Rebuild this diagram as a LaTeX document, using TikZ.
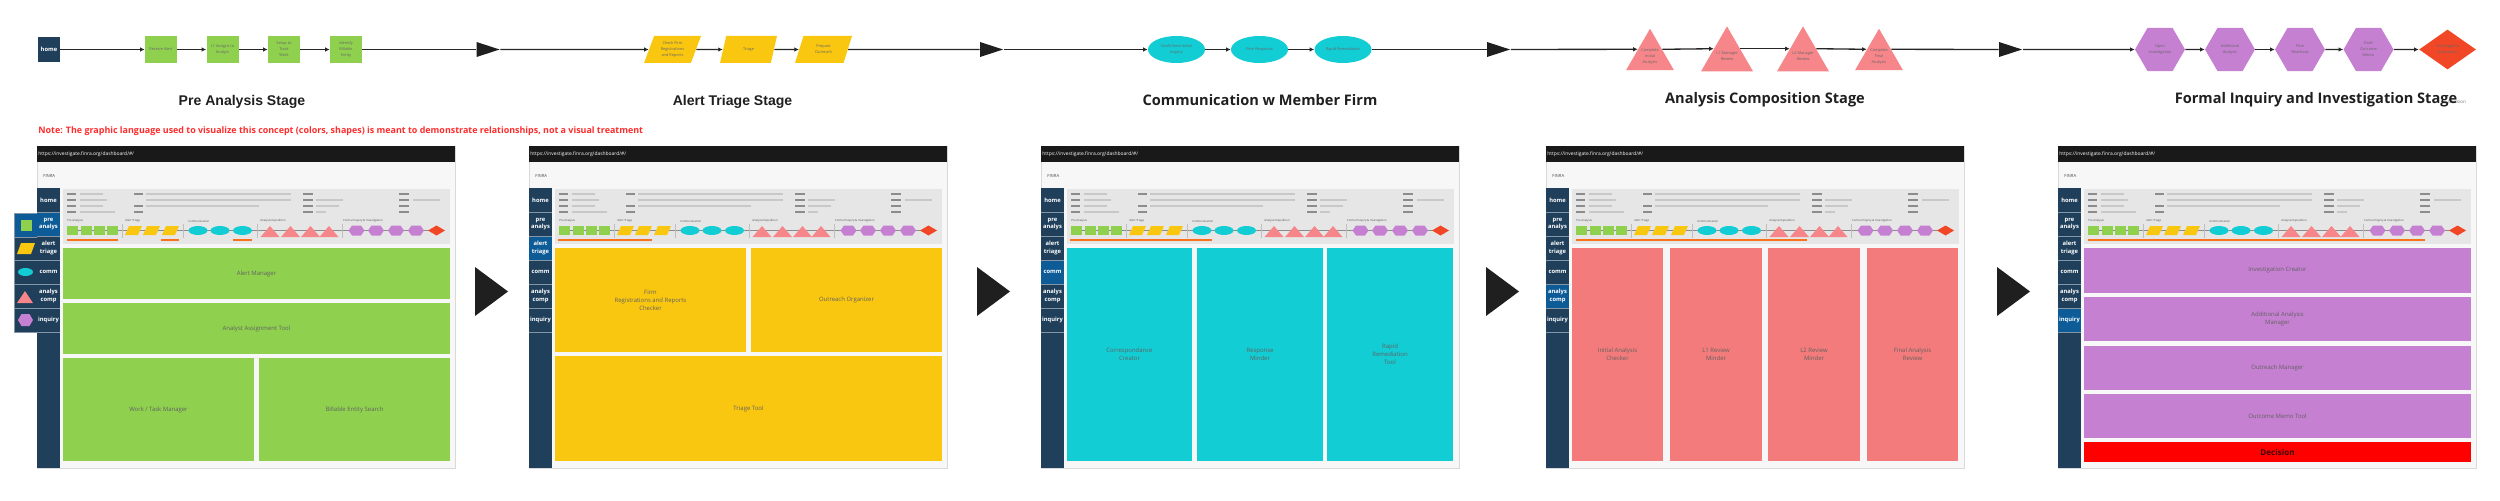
\documentclass[tikz,border=0pt]{standalone}
\usepackage{fontspec}
\setmainfont{Open Sans}
\newfontfamily\helvfont{Liberation Sans}
\usetikzlibrary{shapes.geometric,arrows.meta}

\definecolor{prgreen}{HTML}{8FD14F}
\definecolor{tryellow}{HTML}{FAC710}
\definecolor{cmcyan}{HTML}{12CDD4}
\definecolor{acred}{HTML}{F7868A}
\definecolor{acpanel}{HTML}{F47B7B}
\definecolor{inpurple}{HTML}{C680D2}
\definecolor{dispred}{HTML}{F24726}
\definecolor{decred}{HTML}{FF0000}
\definecolor{navdark}{HTML}{1F3F5B}
\definecolor{navhl}{HTML}{0D5B97}
\definecolor{ulorange}{HTML}{F7721B}
\definecolor{hdrgray}{HTML}{E6E6E6}
\definecolor{pagebg}{HTML}{F7F7F7}
\definecolor{notered}{HTML}{FF2A2A}
\definecolor{skdark}{HTML}{8C8C8C}
\definecolor{sklight}{HTML}{C8C8C8}

\newcommand{\pix}{0.02cm}
\newcommand{\fsz}[2]{\fontsize{#1}{#2}\selectfont}

\tikzset{
  flow/.style={line width=0.75pt, draw=black!85, -{Latex[length=0.9mm,width=0.9mm]}},
  flowplain/.style={line width=0.75pt, draw=black!85},
  stepnode/.style={inner sep=0pt, align=center, text=black!60, font=\fsz{2.2}{3.4}},
  homebox/.style={rectangle, fill=navdark, minimum width=22*\pix, minimum height=25*\pix, inner sep=0pt, text=white, font=\bfseries\fsz{3.3}{4}},
  prbox/.style={stepnode, rectangle, fill=prgreen, minimum width=32*\pix, minimum height=27*\pix},
  trbox/.style={stepnode, trapezium, trapezium left angle=68, trapezium right angle=112, trapezium stretches=true, fill=tryellow, minimum width=57*\pix, minimum height=27*\pix},
  cmbox/.style={stepnode, ellipse, fill=cmcyan, minimum width=57*\pix, minimum height=27*\pix},
  acbox/.style={stepnode, regular polygon, regular polygon sides=3, fill=acred, minimum size=55.4*\pix},
  inbox/.style={stepnode, regular polygon, regular polygon sides=6, fill=inpurple, minimum size=50*\pix},
  dispbox/.style={stepnode, diamond, fill=dispred, minimum width=57*\pix, minimum height=40*\pix},
  bigtip/.style={isosceles triangle, isosceles triangle stretches=true, fill=black!88, minimum width=15*\pix, minimum height=23*\pix, inner sep=0pt},
  stagetitle/.style={text=black!88, font=\bfseries\fsz{8.3}{10}},
  navtext/.style={text=white, align=center, font=\bfseries\fsz{3.3}{4.2}},
  navsep/.style={draw=white!45!navdark, line width=0.3pt},
  tool/.style={inner sep=0pt, align=center, text=black!62, font=\fsz{3.4}{4.6}},
  minilabel/.style={inner sep=0pt, anchor=west, text=black!70, font=\fsz{1.6}{2}},
}

% one box of the dashboard: name, x1, y1, x2, y2, colour, text
\newcommand{\toolbox}[7]{%
  \node[tool, fill=#6, minimum width={(#4-#2)*\pix}, minimum height={(#5-#3)*\pix}] (#1) at ({(#2+#4)/2},{(#3+#5)/2}) {#7};}

% dashboard mock-up: left x, highlighted nav row, orange spans, boxes
\newcommand{\mockpanel}[4]{%
  \begin{scope}[shift={(#1,0)}]
    % browser window
    \fill[pagebg] (0,162) rectangle (418,468);
    \draw[black!15, line width=0.4pt] (0,146) rectangle (418,468);
    \fill[black!90] (0,146) rectangle (418,162);
    \node[anchor=west, inner sep=0pt, text=white, font=\fsz{2.8}{3}] at (1,154) {https://investigate.finra.org/dashboard/\#/};
    \node[anchor=west, inner sep=0pt, text=black!70, font=\fsz{2.4}{3}] at (6,176) {FINRA};
    % side nav
    \fill[navdark] (0,188) rectangle (23,468);
    \fill[navhl] (0,{188+24*(#2-1)}) rectangle (23,{188+24*#2});
    \foreach \i/\t in {0/home,1/pre\\analys,2/alert\\triage,3/comm,4/analys\\comp,5/inquiry} {
      \node[navtext] at (11.5,{200+24*\i}) {\t};
      \draw[navsep] (0,{212+24*\i}) -- (23,{212+24*\i});
    }
    % header skeleton
    \fill[hdrgray] (26,189) rectangle (413,244);
    \foreach \y in {194,200,206,212} {
      \fill[skdark] (30,\y-1.2) rectangle (39,\y+1.2);
      \fill[skdark] (266,\y-1.2) rectangle (276,\y+1.2);
      \fill[skdark] (362,\y-1.2) rectangle (372,\y+1.2);
    }
    \foreach \y in {194,206,212} \fill[skdark] (97,\y-1.2) rectangle (106,\y+1.2);
    \foreach \a/\b/\y in {43/66/194,43/70/200,43/66/206,43/78/212,109/254/194,109/254/200,109/222/206,279/306/200,279/302/206,279/289/212,376/403/200}
      \fill[sklight] (\a,\y-1.2) rectangle (\b,\y+1.2);
    % mini stage flow
    \foreach \x/\t in {30/Pre Analysis,88/Alert Triage,151/Communication,223/Analysis Expedition,306/Formal Inquiry \& Investigation}
      \node[minilabel] at (\x,221) {\t};
    \draw[black!45, line width=0.3pt] (36,230.5) -- (400,230.5);
    \foreach \x in {85,146,220,305} \draw[black!25, line width=0.5pt] (\x,224) -- (\x,238);
    \foreach \x in {30,44,57,70} \fill[prgreen] (\x,226) rectangle (\x+11,235);
    \foreach \x in {88,106,125} \fill[tryellow] (\x,235) -- (\x+4,226) -- (\x+17,226) -- (\x+13,235) -- cycle;
    \foreach \x in {161,183,205.5} \fill[cmcyan] (\x,230.5) ellipse (9.5 and 4.5);
    \foreach \x in {233,253.5,273.5,292} \fill[acred] (\x-9.5,237) -- (\x,226) -- (\x+9.5,237) -- cycle;
    \foreach \x in {319.5,339,359,379} \fill[inpurple] (\x-8,230.5) -- (\x-4.5,225.5) -- (\x+4.5,225.5) -- (\x+8,230.5) -- (\x+4.5,235.5) -- (\x-4.5,235.5) -- cycle;
    \fill[dispred] (391,230.5) -- (399.5,225.5) -- (408,230.5) -- (399.5,235.5) -- cycle;
    \foreach \a/\b in {#3} \draw[ulorange, line width=1.4*\pix] (\a,240) -- (\b,240);
    % tools of this stage
    #4
  \end{scope}}

\begin{document}
\begin{tikzpicture}[x=0.02cm, y=-0.02cm]
  \useasboundingbox (0,0) rectangle (2500,500);

  % stage flow along the top
  \node[homebox] (home) at (49,49.5) {home};
  \node[prbox] (pa1) at (161,49.5) {Receive Alert};
  \node[prbox] (pa2) at (222.5,49.5) {L1 Assigns to\\Analyst};
  \node[prbox] (pa3) at (284,49.5) {Setup to\\Track\\Work};
  \node[prbox] (pa4) at (346,49.5) {Identify\\Billable\\Entity};
  \node[bigtip] (tip1) at (482,49.5) {};
  \node[trbox] (at1) at (672.5,49.5) {Check Firm\\Registrations\\and Reports};
  \node[trbox] (at2) at (748.5,49.5) {Triage};
  \node[trbox] (at3) at (823.5,49.5) {Prepare\\Outreach};
  \node[bigtip] (tip2) at (985.5,49.5) {};
  \node[cmbox] (cm1) at (1176.5,49.5) {Draft/Send Initial\\Inquiry};
  \node[cmbox] (cm2) at (1259.5,49.5) {Firm Response};
  \node[cmbox] (cm3) at (1343,49.5) {Rapid Remediation};
  \node[bigtip] (tip3) at (1492.5,49.5) {};
  \node[acbox] (ac1) at (1650,56.4) {Complete\\Initial\\Analysis};
  \node[acbox] (ac2) at (1727,56.4) {L1 Manager\\Review};
  \node[acbox] (ac3) at (1803,56.4) {L2 Manager\\Review};
  \node[acbox] (ac4) at (1879,56.4) {Complete\\Final\\Analysis};
  \node[bigtip] (tip4) at (2004.5,49.5) {};
  \node[inbox] (in1) at (2160,49.5) {Open\\Investigation};
  \node[inbox] (in2) at (2230,49.5) {Additional\\Analysis};
  \node[inbox] (in3) at (2300,49.5) {Firm\\Reachout};
  \node[inbox] (in4) at (2368.5,49.5) {Draft\\Outcome\\Memo};
  \node[dispbox] (disp) at (2447.5,49.5) {Investigation\\Disposition};

  \draw[flow] (home) -- (pa1);
  \foreach \a/\b in {pa1/pa2,pa2/pa3,pa3/pa4,at1/at2,at2/at3,cm1/cm2,cm2/cm3,in1/in2,in2/in3,in3/in4,in4/disp}
    \draw[flow] (\a) -- (\b);
  \foreach \a/\b in {pa4/tip1,at3/tip2,cm3/tip3} \draw[flowplain] (\a) -- (\b);
  \foreach \a/\b in {tip1/at1,tip2/cm1,tip4/in1} \draw[flow] (\a) -- (\b);
  \draw[flow] (tip3) -- (ac1.side 1);
  \draw[flow] (ac1.side 3) -- (ac2.side 1);
  \draw[flow] (ac2.side 3) -- (ac3.side 1);
  \draw[flow] (ac3.side 3) -- (ac4.side 1);
  \draw[flowplain] (ac4.side 3) -- (tip4);

  % stage titles
  \node[text=black!55, font=\fsz{2.5}{3}] (declabel) at (2457,102) {Decision};
  \node[stagetitle, font=\helvfont\bfseries\fsz{8}{10}] (tpre) at (242,101.5) {Pre Analysis Stage};
  \node[stagetitle, font=\helvfont\bfseries\fsz{8}{10}] (ttri) at (732.5,101.5) {Alert Triage Stage};
  \node[stagetitle] (tcom) at (1260,100) {Communication w Member Firm};
  \node[stagetitle] (tana) at (1765,100) {Analysis Composition Stage};
  \node[stagetitle] (tinq) at (2316,100) {Formal Inquiry and Investigation Stage};
  \node[anchor=west, inner sep=0pt, text=notered, font=\bfseries\fsz{5.08}{6}] (note) at (38,131) {Note: The graphic language used to visualize this concept (colors, shapes) is meant to demonstrate relationships, not a visual treatment};

  % shape legend beside the first dashboard
  \fill[navdark] (14,213) rectangle (37,332);
  \fill[navhl] (14,213) rectangle (37,237);
  \foreach \y in {213,237,260,284,308,332} \draw[navsep] (14,\y) -- (37,\y);
  \draw[navsep] (14,213) -- (14,332);
  \fill[prgreen] (21,220) rectangle (32,231);
  \fill[tryellow] (17,254) -- (21,243) -- (35,243) -- (31,254) -- cycle;
  \fill[cmcyan] (25.5,272) ellipse (7.5 and 4);
  \fill[acred] (17,303) -- (25,291) -- (33,303) -- cycle;
  \fill[inpurple] (18,320) -- (21.5,314) -- (29.5,314) -- (33,320) -- (29.5,326) -- (21.5,326) -- cycle;

  % dashboards, one for each stage
  \mockpanel{37}{2}{30/81,124/142,196/215}{
    \toolbox{alertmgr}{26}{248}{413}{299}{prgreen}{Alert Manager}
    \toolbox{assigntool}{26}{303}{413}{354}{prgreen}{Analyst Assignment Tool}
    \toolbox{taskmgr}{26}{358}{217}{461}{prgreen}{Work / Task Manager}
    \toolbox{entitysearch}{222}{358}{413}{461}{prgreen}{Billable Entity Search}
  }
  \mockpanel{529}{3}{29/123}{
    \toolbox{regcheck}{26}{248}{217}{352}{tryellow}{Firm\\Registrations and Reports\\Checker}
    \toolbox{outorg}{222}{248}{413}{352}{tryellow}{Outreach Organizer}
    \toolbox{triagetool}{26}{356}{413}{461}{tryellow}{Triage Tool}
  }
  \mockpanel{1041}{4}{29/171}{
    \toolbox{corrcreator}{26}{248}{151}{461}{cmcyan}{Correspondance\\Creator}
    \toolbox{respminder}{156}{248}{282}{461}{cmcyan}{Response\\Minder}
    \toolbox{rapidtool}{286}{248}{412}{461}{cmcyan}{Rapid\\Remediation\\Tool}
  }
  \mockpanel{1546}{5}{30/261}{
    \toolbox{initcheck}{26}{248}{117}{461}{acpanel}{Initial Analysis\\Checker}
    \toolbox{lonemind}{124}{248}{216}{461}{acpanel}{L1 Review\\Minder}
    \toolbox{ltwomind}{222}{248}{314}{461}{acpanel}{L2 Review\\Minder}
    \toolbox{finalrev}{321}{248}{412}{461}{acpanel}{Final Analysis\\Review}
  }
  \mockpanel{2058}{6}{30/367}{
    \toolbox{invcreator}{26}{248}{413}{293}{inpurple}{Investigation Creator}
    \toolbox{addmgr}{26}{297}{413}{341}{inpurple}{Additional Analysis\\Manager}
    \toolbox{outmgr}{26}{346}{413}{390}{inpurple}{Outreach Manager}
    \toolbox{memotool}{26}{394}{413}{438}{inpurple}{Outcome Memo Tool}
    \node[tool, fill=decred, text=red!25!black, font=\bfseries\fsz{4.6}{5}, minimum width=387*\pix, minimum height=20*\pix] (decision) at (219.5,452) {Decision};
  }

  % arrows between the dashboards
  \foreach \x in {475,977,1486,1997}
    \fill[black!88] (\x,267) -- (\x+33,291.5) -- (\x,316) -- cycle;
\end{tikzpicture}
\end{document}
